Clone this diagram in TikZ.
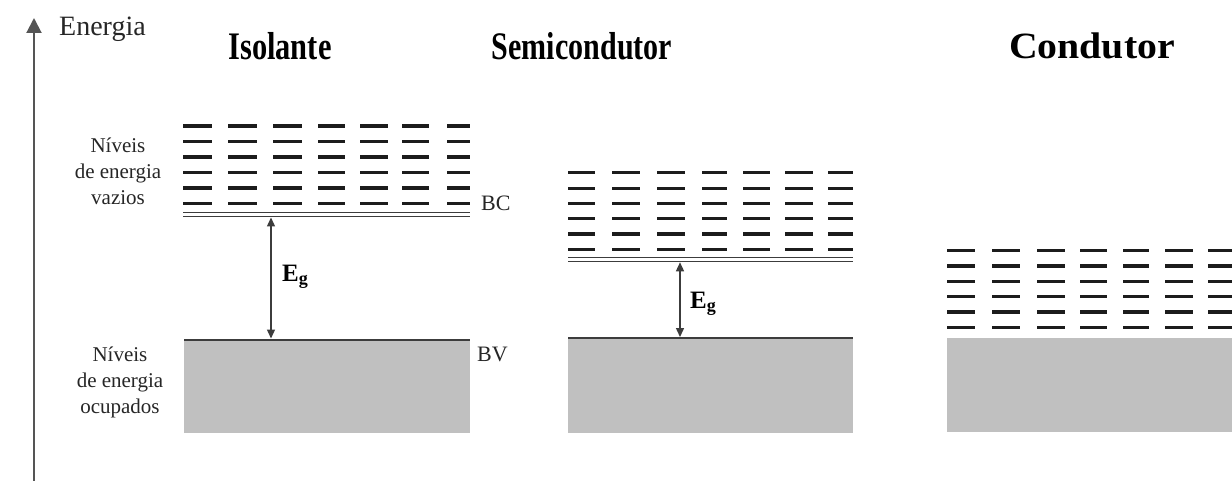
\documentclass[tikz,border=0pt]{standalone}
\usepackage{fontspec}
\setmainfont{Liberation Serif}
\usetikzlibrary{arrows.meta}
\definecolor{bandgray}{RGB}{192,192,192}
\definecolor{dashc}{RGB}{28,28,28}
\definecolor{linec}{RGB}{60,60,60}
\definecolor{axisc}{RGB}{85,85,85}
\tikzset{
  lvl/.style={line width=3.2pt, draw=dashc},
  bcline/.style={line width=1.2pt, draw=linec},
  band/.style={fill=bandgray, draw=none},
  bvline/.style={line width=2pt, draw=linec},
  gaparrow/.style={line width=1.4pt, draw=linec, {Triangle[length=9pt,width=8pt]}-{Triangle[length=9pt,width=8pt]}},
  axisline/.style={line width=2pt, draw=axisc, -{Triangle[length=15pt,width=15pt]}},
  titletext/.style={font=\bfseries\fontsize{39}{39}\selectfont, inner sep=0pt, anchor=base},
  sidelbl/.style={font=\fontsize{21}{26}\selectfont, align=center, inner sep=0pt, text=black!85},
  bandlbl/.style={font=\fontsize{22}{22}\selectfont, inner sep=0pt, anchor=base west, text=black!85},
  eglbl/.style={font=\bfseries\fontsize{25}{25}\selectfont, inner sep=0pt, anchor=base west},
}
\newcommand{\egtext}{E\raisebox{-0.3ex}{\fontsize{18}{18}\selectfont g}}
\begin{document}
\begin{tikzpicture}[x=1pt,y=-1pt]
\path[use as bounding box, fill=white] (0,0) rectangle (1232,481);

% Energy axis
\coordinate (axbot) at (34,481);
\coordinate (axtop) at (34,18);
\draw[axisline] (axbot) -- (axtop);
\node[font=\fontsize{28}{28}\selectfont, inner sep=0pt, anchor=base west, text=black!85] (energia) at (59,36) {Energia};

% Titles
\node[titletext] (tiso) at (280,60) {\scalebox{0.78}[1]{Isolante}};
\node[titletext] (tsemi) at (582,60) {\scalebox{0.77}[1]{Semicondutor}};
\node[titletext] (tcond) at (1092,59) {\scalebox{1.02}[0.95]{Condutor}};

% ---------------- Isolante ----------------
\foreach \a/\b in {183/212,228/257,273/302,318/345,360/388,402/429,447/470}
  \foreach \y in {126,141.5,157,172.5,188,203.5}
    \draw[lvl] (\a,\y) -- (\b,\y);
\draw[bcline] (183,212.5) -- (470,212.5);
\draw[bcline] (183,216.5) -- (470,216.5);
\fill[band] (184,339) rectangle (470,433);
\draw[bvline] (184,339.5) -- (470,339.5);
\coordinate (isoT) at (271,217.5);
\coordinate (isoB) at (271,338.5);
\draw[gaparrow] (isoT) -- (isoB);
\node[eglbl] (egiso) at (282,281) {\egtext};
\node[bandlbl] (bc) at (481,211) {BC};
\node[bandlbl] (bv) at (477,361) {BV};

\node[sidelbl] (vazios) at (118,171) {Níveis\\de energia\\vazios};
\node[sidelbl] (ocup) at (120,382) {Níveis\\de energia\\ocupados};

% ---------------- Semicondutor ----------------
\foreach \a/\b in {568/595,612/640,657/685,702/727,743/770,785/813,828/853}
  \foreach \y in {172.7,188.3,203.5,218.7,234,249.7}
    \draw[lvl] (\a,\y) -- (\b,\y);
\draw[bcline] (568,257.5) -- (853,257.5);
\draw[bcline] (568,261.5) -- (853,261.5);
\fill[band] (568,337.5) rectangle (853,433);
\draw[bvline] (568,338) -- (853,338);
\coordinate (semT) at (680,262.3);
\coordinate (semB) at (680,337);
\draw[gaparrow] (semT) -- (semB);
\node[eglbl] (egsem) at (690,308) {\egtext};

% ---------------- Condutor ----------------
\foreach \a/\b in {947/975,992/1020,1037/1065,1080/1107,1123/1149,1165/1193,1208/1232}
  \foreach \y in {250.7,266,281.7,296.5,312,327.8}
    \draw[lvl] (\a,\y) -- (\b,\y);
\fill[band] (947,338) rectangle (1232,432);
\end{tikzpicture}
\end{document}
